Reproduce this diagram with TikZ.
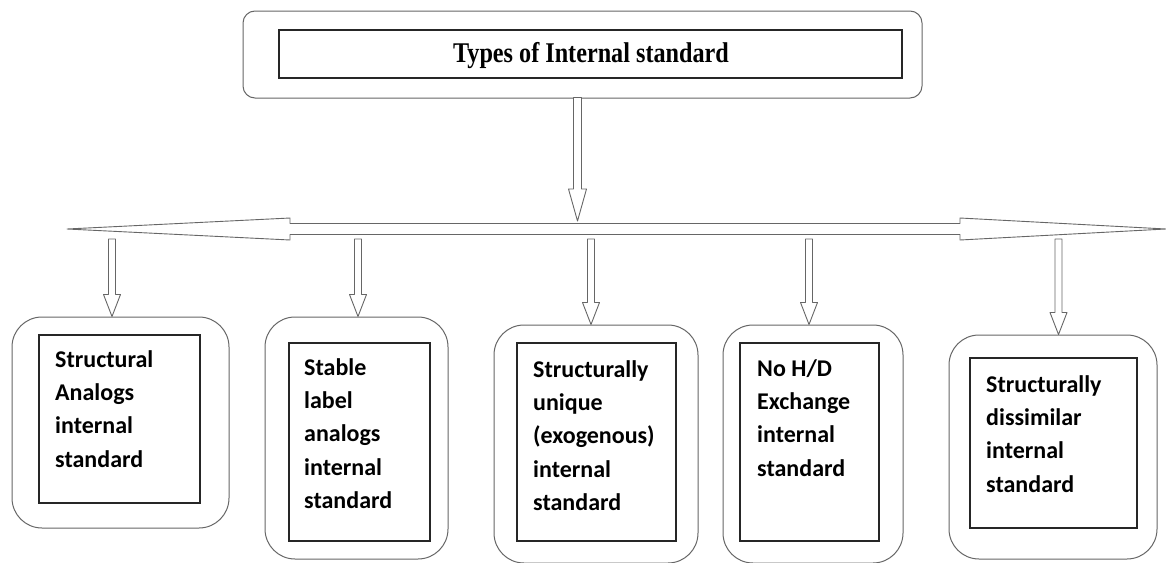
\documentclass[tikz,border=0pt]{standalone}
\usepackage{fontspec}
\usepackage{graphicx}
\setmainfont{Carlito}
\newfontfamily\titlefont{Liberation Serif}
\usetikzlibrary{calc}

\begin{document}
\begin{tikzpicture}[x=1pt, y=-1pt,
  outerbox/.style={rectangle, draw=black!60, line width=1pt, rounded corners=30pt},
  innerbox/.style={rectangle, draw=black!85, line width=1.4pt},
  itemtext/.style={anchor=north west, inner sep=0pt, align=left, font=\fontsize{24}{33.3}\selectfont\bfseries},
  blockdown/.style n args={3}{draw=black!60, line width=0.9pt, line join=round, fill=white,
    to path={let \p1=(\tikztostart), \p2=(\tikztotarget) in
      (\x1-#1,\y1) -- (\x1-#1,\y2+#3) -- (\x1-#2,\y2+#3) -- (\x2,\y2) -- (\x1+#2,\y2+#3) -- (\x1+#1,\y2+#3) -- (\x1+#1,\y1) -- cycle}},
  dblarrow/.style={draw=black!60, line width=0.9pt, line join=round, fill=white,
    to path={let \p1=(\tikztostart), \p2=(\tikztotarget) in
      (\x1,\y1) -- (\x1+223pt,\y1+11pt) -- (\x1+223pt,\y1+5.5pt) -- (\x2-206pt,\y1+5.5pt) -- (\x2-206pt,\y1+11pt)
      -- (\x2,\y2) -- (\x2-206pt,\y1-11pt) -- (\x2-206pt,\y1-5.5pt) -- (\x1+223pt,\y1-5.5pt) -- (\x1+223pt,\y1-11pt) -- cycle}}
]
\useasboundingbox (0,0) rectangle (1166,562);

% title box
\node[outerbox, rounded corners=12pt, minimum width=679pt, minimum height=87pt] (otop) at (582.5,54.5) {};
\node[innerbox, minimum width=623pt, minimum height=48pt] (itop) at (590.5,54) {};
\node[anchor=base, inner sep=0pt, font=\titlefont\fontsize{24.2}{29}\selectfont\bfseries] (title) at (591,62) {\scalebox{1}[1.18]{Types of Internal standard}};

% the five kinds
\node[outerbox, minimum width=217pt, minimum height=211pt] (o1) at (120.5,422.5) {};
\node[innerbox, minimum width=161pt, minimum height=168pt] (i1) at (119.5,419) {};
\node[itemtext] (t1) at (55,343.7) {\strut Structural\\Analogs\\internal\\standard};

\node[outerbox, minimum width=183pt, minimum height=242pt] (o2) at (356.5,438) {};
\node[innerbox, minimum width=141pt, minimum height=198pt] (i2) at (359.5,442) {};
\node[itemtext] (t2) at (304,351.7) {\strut Stable\\label\\analogs\\internal\\standard};

\node[outerbox, minimum width=204pt, minimum height=238pt] (o3) at (596,444) {};
\node[innerbox, minimum width=159pt, minimum height=198pt] (i3) at (596.5,442) {};
\node[itemtext] (t3) at (533,353.7) {\strut Structurally\\unique\\(exogenous)\\internal\\standard};

\node[outerbox, minimum width=180pt, minimum height=238pt] (o4) at (813,444) {};
\node[innerbox, minimum width=139pt, minimum height=198pt] (i4) at (809.5,442) {};
\node[itemtext] (t4) at (757,352.7) {\strut No H/D\\Exchange\\internal\\standard};

\node[outerbox, minimum width=208pt, minimum height=224pt] (o5) at (1053,447) {};
\node[innerbox, minimum width=167pt, minimum height=170pt] (i5) at (1053.5,443) {};
\node[itemtext] (t5) at (986,368.7) {\strut Structurally\\dissimilar\\internal\\standard};

% arrows
\coordinate (barL) at (67,229);
\coordinate (barR) at (1166,229);
\coordinate (a0) at (577.5,97.5);
\coordinate (h0) at (577.5,221);
\draw[blockdown={4pt}{9pt}{32pt}] (a0) to (h0);
\draw[dblarrow] (barL) to (barR);

\foreach \k/\ax in {1/112, 2/358, 3/591, 4/809, 5/1058.5} {
  \coordinate (s\k) at (\ax,239);
  \coordinate (e\k) at (s\k |- o\k.north);
  \draw[blockdown={3.5pt}{8.5pt}{22pt}] (s\k) to (e\k);
}

\end{tikzpicture}
\end{document}
